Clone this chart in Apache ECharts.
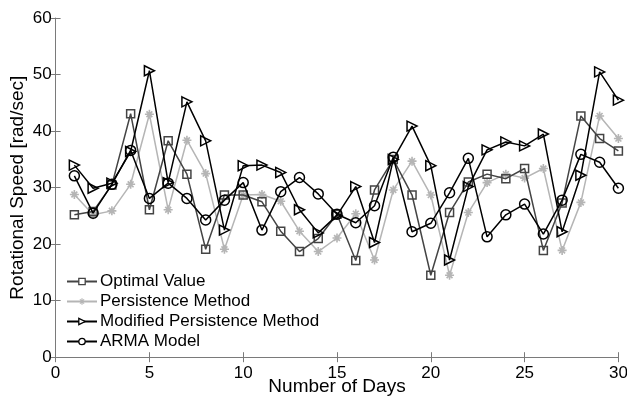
<!DOCTYPE html>
<html>
<head>
<meta charset="utf-8">
<script src="https://cdn.jsdelivr.net/npm/echarts@6/dist/echarts.min.js"></script>
<style>
  html, body { margin: 0; padding: 0; background: #fff; }
  #chart { width: 627px; height: 398px; }
</style>
</head>
<body>
<div id="chart"></div>
<script>
// Day numbers along the horizontal axis
const days = [1,2,3,4,5,6,7,8,9,10,11,12,13,14,15,16,17,18,19,20,21,22,23,24,25,26,27,28,29,30];

// Rotational speed series [rad/sec]
const optimalValue = [25.2, 25.8, 30.5, 43.1, 26.1, 38.3, 32.4, 19.1, 28.7, 28.7, 27.5, 22.3, 18.7, 21.0, 25.3, 17.1, 29.6, 35.0, 28.7, 14.5, 25.6, 31.0, 32.4, 31.6, 33.4, 18.9, 27.3, 42.7, 38.7, 36.5];
const persistence  = [28.8, 25.2, 25.9, 30.6, 43.0, 26.1, 38.4, 32.5, 19.1, 28.7, 28.8, 27.6, 22.3, 18.7, 21.1, 25.4, 17.2, 29.6, 34.7, 28.7, 14.5, 25.6, 30.9, 32.4, 31.7, 33.4, 18.9, 27.4, 42.7, 38.7];
const modifiedPersistence = [34.0, 29.9, 30.8, 36.4, 50.7, 30.9, 45.2, 38.3, 22.5, 33.9, 34.0, 32.7, 26.1, 22.0, 25.1, 30.2, 20.3, 35.0, 40.9, 33.9, 17.2, 30.2, 36.7, 38.1, 37.4, 39.5, 22.2, 32.2, 50.5, 45.5];
const armaModel = [32.1, 25.5, 30.6, 36.6, 28.1, 30.8, 28.1, 24.3, 27.8, 30.9, 22.5, 29.3, 31.8, 28.9, 25.3, 23.8, 26.8, 35.4, 22.2, 23.7, 29.1, 35.2, 21.3, 25.2, 27.1, 21.8, 27.8, 35.9, 34.5, 29.9];

// Axis ticks
const xTicks = { min: 0, max: 30, interval: 5 };
const yTicks = { min: 0, max: 60, interval: 10 };

const FONT = '"Liberation Sans", Arial, Helvetica, sans-serif';
const AXIS_GREY = '#7a7a7a';

// Asterisk marker built from four thin bars
const asterisk = 'path://M-5,-0.9L5,-0.9L5,0.9L-5,0.9Z' +
  'M-0.9,-5L0.9,-5L0.9,5L-0.9,5Z' +
  'M-3.9,-2.6L-2.6,-3.9L3.9,2.6L2.6,3.9Z' +
  'M2.6,-3.9L3.9,-2.6L-2.6,3.9L-3.9,2.6Z';
const rightTriangle = 'path://M0,0L10,5L0,10Z';

function pairs(values) {
  return days.map((d, i) => [d, values[i]]);
}

const chart = echarts.init(document.getElementById('chart'), null, { renderer: 'canvas' });

const hiddenAxis = {
  axisLine: { show: true, lineStyle: { color: AXIS_GREY, width: 1 } },
  axisTick: { show: true, inside: true, length: 5, lineStyle: { color: AXIS_GREY } },
  axisLabel: { show: false },
  splitLine: { show: false }
};

const hollow = (stroke) => ({ color: '#fff', borderColor: stroke, borderWidth: 1.3 });

chart.setOption({
  animation: false,
  backgroundColor: '#fff',
  textStyle: { fontFamily: FONT },
  grid: { left: 55.6, right: 8.6, top: 18.2, bottom: 40.8, containLabel: false, outerBoundsMode: 'none' },
  xAxis: [
    {
      type: 'value', min: xTicks.min, max: xTicks.max, interval: xTicks.interval,
      name: 'Number of Days', nameLocation: 'middle', nameGap: 20, nameMoveOverlap: false,
      nameTextStyle: { fontFamily: FONT, fontSize: 19, color: '#000' },
      axisLine: { show: true, onZero: false, lineStyle: { color: AXIS_GREY, width: 1 } },
      axisTick: { show: true, inside: true, length: 5, lineStyle: { color: AXIS_GREY } },
      axisLabel: { fontFamily: FONT, fontSize: 17, color: '#000', margin: 8 },
      splitLine: { show: false }
    },
    Object.assign({ type: 'value', position: 'top', min: xTicks.min, max: xTicks.max, interval: xTicks.interval }, hiddenAxis)
  ],
  yAxis: [
    {
      type: 'value', min: yTicks.min, max: yTicks.max, interval: yTicks.interval,
      name: 'Rotational Speed [rad/sec]', nameLocation: 'middle', nameGap: 28, nameMoveOverlap: false,
      nameTextStyle: { fontFamily: FONT, fontSize: 19, color: '#000' },
      axisLine: { show: true, onZero: false, lineStyle: { color: AXIS_GREY, width: 1 } },
      axisTick: { show: true, inside: true, length: 5, lineStyle: { color: AXIS_GREY } },
      axisLabel: { fontFamily: FONT, fontSize: 17, color: '#000', margin: 4 },
      splitLine: { show: false }
    },
    Object.assign({ type: 'value', position: 'right', min: yTicks.min, max: yTicks.max, interval: yTicks.interval }, hiddenAxis)
  ],
  legend: {
    orient: 'vertical', left: 61, top: 268,
    itemWidth: 30, itemHeight: 8, itemGap: 3,
    textStyle: { fontFamily: FONT, fontSize: 17, color: '#000', padding: [0, 0, 0, -2] },
    data: [
      { name: 'Optimal Value', itemStyle: hollow('#444') },
      { name: 'Persistence Method', itemStyle: { color: '#b5b5b5', borderWidth: 0 } },
      { name: 'Modified Persistence Method', itemStyle: hollow('#000') },
      { name: 'ARMA Model', itemStyle: hollow('#000') }
    ]
  },
  series: [
    {
      name: 'Optimal Value', type: 'line', data: pairs(optimalValue),
      symbol: 'rect', symbolSize: 8,
      lineStyle: { color: '#444', width: 1.5 },
      itemStyle: { color: 'transparent', borderColor: '#444', borderWidth: 1.5 },
      z: 3
    },
    {
      name: 'Persistence Method', type: 'line', data: pairs(persistence),
      symbol: asterisk, symbolSize: 9,
      lineStyle: { color: '#b5b5b5', width: 1.5 },
      itemStyle: { color: '#b5b5b5', borderWidth: 0 },
      z: 2
    },
    {
      name: 'Modified Persistence Method', type: 'line', data: pairs(modifiedPersistence),
      symbol: rightTriangle, symbolSize: 10,
      lineStyle: { color: '#000', width: 1.5 },
      itemStyle: { color: 'transparent', borderColor: '#000', borderWidth: 1.5 },
      z: 4
    },
    {
      name: 'ARMA Model', type: 'line', data: pairs(armaModel),
      symbol: 'circle', symbolSize: 10,
      lineStyle: { color: '#000', width: 1.5 },
      itemStyle: { color: 'transparent', borderColor: '#000', borderWidth: 1.5 },
      z: 5
    }
  ]
});
</script>
</body>
</html>
